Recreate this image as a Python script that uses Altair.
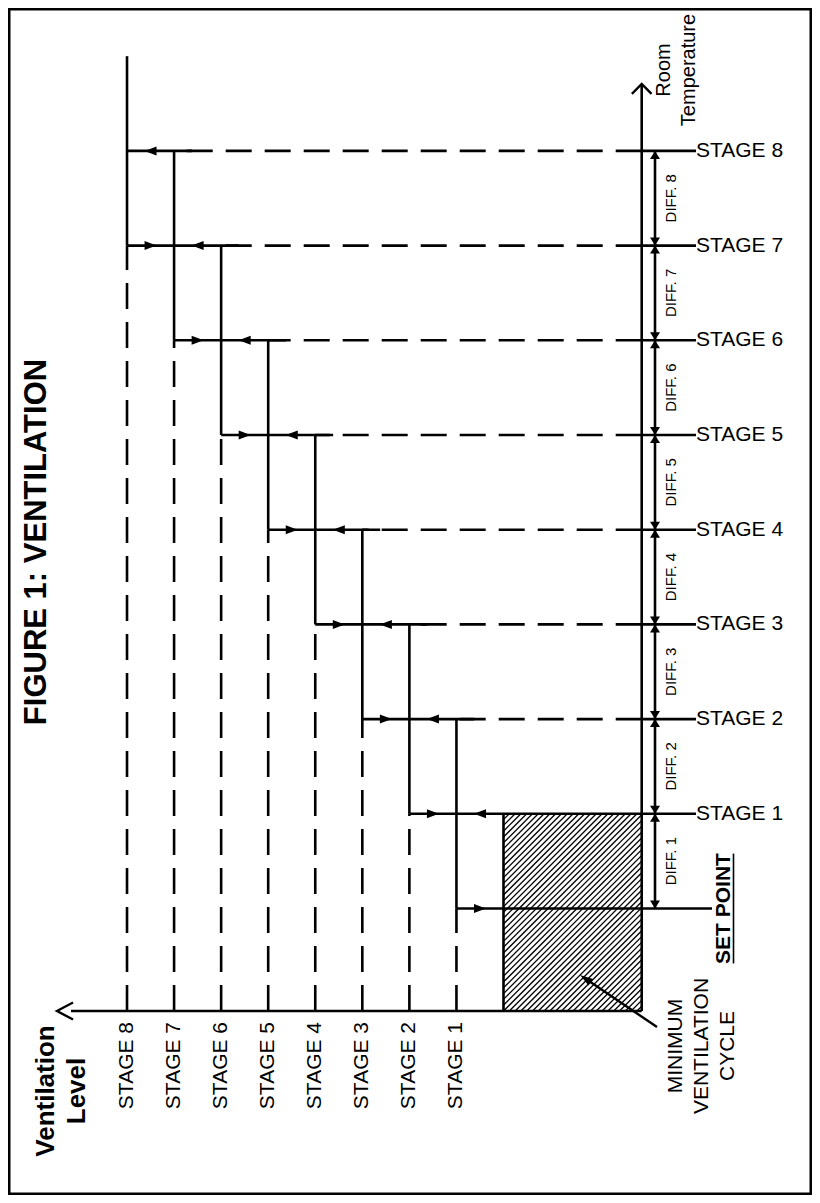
import altair as alt

# ---------------- data ----------------
stage_numbers = [1, 2, 3, 4, 5, 6, 7, 8]
stage_labels = ["STAGE 1", "STAGE 2", "STAGE 3", "STAGE 4",
                "STAGE 5", "STAGE 6", "STAGE 7", "STAGE 8"]
diff_labels = ["DIFF. 1", "DIFF. 2", "DIFF. 3", "DIFF. 4",
               "DIFF. 5", "DIFF. 6", "DIFF. 7", "DIFF. 8"]
# temperature thresholds, in differential steps above the set point
temp_thresholds = [1, 2, 3, 4, 5, 6, 7, 8]
set_point = 0
# ventilation level of each stage column
vent_levels = [1, 2, 3, 4, 5, 6, 7, 8]
min_vent_level = 0
title_text = "FIGURE 1: VENTILATION"
x_title = ["Ventilation", "Level"]
y_title = ["Room", "Temperature"]
set_point_label = "SET POINT"
min_vent_label = ["MINIMUM", "VENTILATION", "CYCLE"]

# ---------------- layout ----------------
W, H = 804, 1187
PX, PY = 47.06, 94.7          # pixels per ventilation step / per temperature diff
X0, Y0 = 503.5, 908.5         # page position of (ventilation 0, set point)


def kx(px):
    return (X0 - px) / PX


def ty(py):
    return (Y0 - py) / PY


xs = alt.Scale(domain=[(X0 - 8 - W) / PX, (X0 - 8) / PX], reverse=True, nice=False, zero=False)
ys = alt.Scale(domain=[(Y0 - 8 - H) / PY, (Y0 - 8) / PY], nice=False, zero=False)

T_AXIS = kx(641.7)     # ventilation value where temperature axis stands
V_AXIS = ty(1011)      # temperature value where ventilation axis stands
T_TOP = ty(84)
V_START = kx(71)
V_TIP = kx(57)
LABEL_END = kx(696)
SP_END = kx(712)
EXT = 0.38
DIFF_X = kx(655)
LW = 2.6
FONT = "Liberation Sans"
DASH = [26, 13]


def enc_rule(ch):
    return ch.encode(
        x=alt.X("x:Q", scale=xs, axis=None), x2="x2:Q",
        y=alt.Y("y:Q", scale=ys, axis=None), y2="y2:Q")


def rule_layer(rows, width=LW, dash=None):
    kw = dict(strokeWidth=width, color="black", strokeCap="butt")
    if dash:
        kw["strokeDash"] = dash
    return enc_rule(alt.Chart(alt.Data(values=rows)).mark_rule(**kw))


def point_layer(rows, shape, size, filled=True, angle=0, sw=0):
    kw = dict(shape=shape, size=size, filled=filled, color="black", opacity=1,
              strokeWidth=sw if sw else 0.001)
    if angle:
        kw["angle"] = angle
    if not filled:
        kw["strokeWidth"] = sw
        kw["strokeCap"] = "square"
    return alt.Chart(alt.Data(values=rows)).mark_point(**kw).encode(
        x=alt.X("x:Q", scale=xs, axis=None), y=alt.Y("y:Q", scale=ys, axis=None))


def text_layer(rows, size, weight="normal", angle=270, align="center",
               baseline="middle", line_height=None):
    kw = dict(font=FONT, fontSize=size, fontWeight=weight, angle=angle,
              align=align, baseline=baseline, color="black")
    if line_height:
        kw["lineHeight"] = line_height
    return alt.Chart(alt.Data(values=rows)).mark_text(**kw).encode(
        x=alt.X("x:Q", scale=xs, axis=None), y=alt.Y("y:Q", scale=ys, axis=None),
        text="t:N")


layers = []

# ---- hatched minimum ventilation block ----
xl, xr = X0 - PX * min_vent_level, X0 - PX * T_AXIS
yt, yb = Y0 - PY * temp_thresholds[0], Y0 - PY * V_AXIS
hatch = []
step = 5.8
c = xl + yt + step
while c < xr + yb:
    xa = max(xl, c - yb)
    xb = min(xr, c - yt)
    if xb > xa:
        hatch.append({"x": kx(xa), "y": ty(c - xa), "x2": kx(xb), "y2": ty(c - xb)})
    c += step
layers.append(rule_layer(hatch, width=1.3))
layers.append(rule_layer([{"x": min_vent_level, "x2": min_vent_level,
                           "y": V_AXIS, "y2": temp_thresholds[0]}]))

# ---- stage columns ----
col_solid = [{"x": v, "x2": v, "y": v - 1, "y2": v + 1} for v in vent_levels]
col_dash = [{"x": v, "x2": v, "y": V_AXIS, "y2": v - 1} for v in vent_levels]
layers.append(rule_layer(col_dash, dash=DASH))
layers.append(rule_layer(col_solid))

# ---- threshold lines ----
h_solid, h_dash = [], []
levels = [set_point] + temp_thresholds
for n in levels:
    start = min(n + 1, vent_levels[-1])
    if n >= 2:
        h_solid.append({"x": start, "x2": n - 1 - EXT, "y": n, "y2": n})
        h_dash.append({"x": T_AXIS, "x2": n - 1, "y": n, "y2": n})
        h_solid.append({"x": T_AXIS, "x2": LABEL_END, "y": n, "y2": n})
    elif n == 1:
        h_solid.append({"x": start, "x2": LABEL_END, "y": n, "y2": n})
    else:
        h_solid.append({"x": start, "x2": SP_END, "y": n, "y2": n})
layers.append(rule_layer(h_dash, dash=DASH))
layers.append(rule_layer(h_solid))

# arrows on threshold lines
right_arrows = [{"x": n + 0.5, "y": n} for n in levels if n < vent_levels[-1]]
left_arrows = [{"x": n - 0.5, "y": n} for n in levels if n >= 1]
layers.append(point_layer(right_arrows, "M-1,-0.75L1,0L-1,0.75Z", 144))
layers.append(point_layer(left_arrows, "M1,-0.75L-1,0L1,0.75Z", 144))

# ---- axes ----
layers.append(rule_layer([{"x": T_AXIS, "x2": T_AXIS, "y": V_AXIS, "y2": T_TOP},
                          {"x": V_START, "x2": T_AXIS, "y": V_AXIS, "y2": V_AXIS}]))
layers.append(point_layer([{"x": T_AXIS, "y": T_TOP}], "M-1,1L0,0L1,1", 324,
                          filled=False, sw=2.4))
layers.append(point_layer([{"x": V_TIP, "y": V_AXIS}], "M1.875,-1L0,0L1.875,1", 256,
                          filled=False, sw=2.4))

# ---- differential arrows ----
diff_rules = [{"x": DIFF_X, "x2": DIFF_X, "y": n - 1, "y2": n} for n in temp_thresholds]
layers.append(rule_layer(diff_rules))
layers.append(point_layer([{"x": DIFF_X, "y": n} for n in temp_thresholds],
                          "M0,0L-1,1.6L1,1.6Z", 100))
layers.append(point_layer([{"x": DIFF_X, "y": n - 1} for n in temp_thresholds],
                          "M0,0L-1,-1.6L1,-1.6Z", 100))
layers.append(text_layer([{"x": kx(671), "y": n - 0.5, "t": d}
                          for n, d in zip(temp_thresholds, diff_labels)], 15))

# ---- pointer to minimum ventilation block ----
tip = (kx(580), ty(975))
tail = (kx(657), ty(1027))
layers.append(rule_layer([{"x": tail[0], "x2": kx(586), "y": tail[1], "y2": ty(979)}],
                         width=2.4))
layers.append(point_layer([{"x": tip[0], "y": tip[1]}], "M0,0L-0.8,2.6L0.8,2.6Z", 100,
                          angle=304))

# ---- texts ----
layers.append(text_layer([{"x": LABEL_END, "y": n, "t": s}
                          for n, s in zip(temp_thresholds, stage_labels)],
                         21, angle=0, align="left"))
layers.append(text_layer([{"x": v, "y": ty(1022), "t": s}
                          for v, s in zip(vent_levels, stage_labels)],
                         21, align="right"))
layers.append(text_layer([{"x": kx(724), "y": set_point, "t": set_point_label}], 21, weight="bold"))
layers.append(rule_layer([{"x": kx(733.5), "x2": kx(733.5), "y": set_point - 0.58,
                           "y2": set_point + 0.58}], width=1.6))
# multi-line blocks: anchor is the first line
layers.append(text_layer([{"x": kx(676), "y": ty(1046), "t": min_vent_label}], 21,
                         line_height=26))
layers.append(text_layer([{"x": kx(663.5), "y": ty(70), "t": y_title}], 20, line_height=25))
layers.append(text_layer([{"x": kx(46), "y": ty(1091), "t": x_title}], 26, weight="bold",
                         line_height=31))
layers.append(text_layer([{"x": kx(37), "y": ty(542), "t": title_text}], 31, weight="bold"))

chart = alt.layer(*layers).properties(
    width=W, height=H, padding=0, background="white",
    autosize=alt.AutoSizeParams(type="none"),
).configure_view(stroke="black", strokeWidth=5)

chart.save("out.html", embed_options={"renderer": "svg", "actions": False})
